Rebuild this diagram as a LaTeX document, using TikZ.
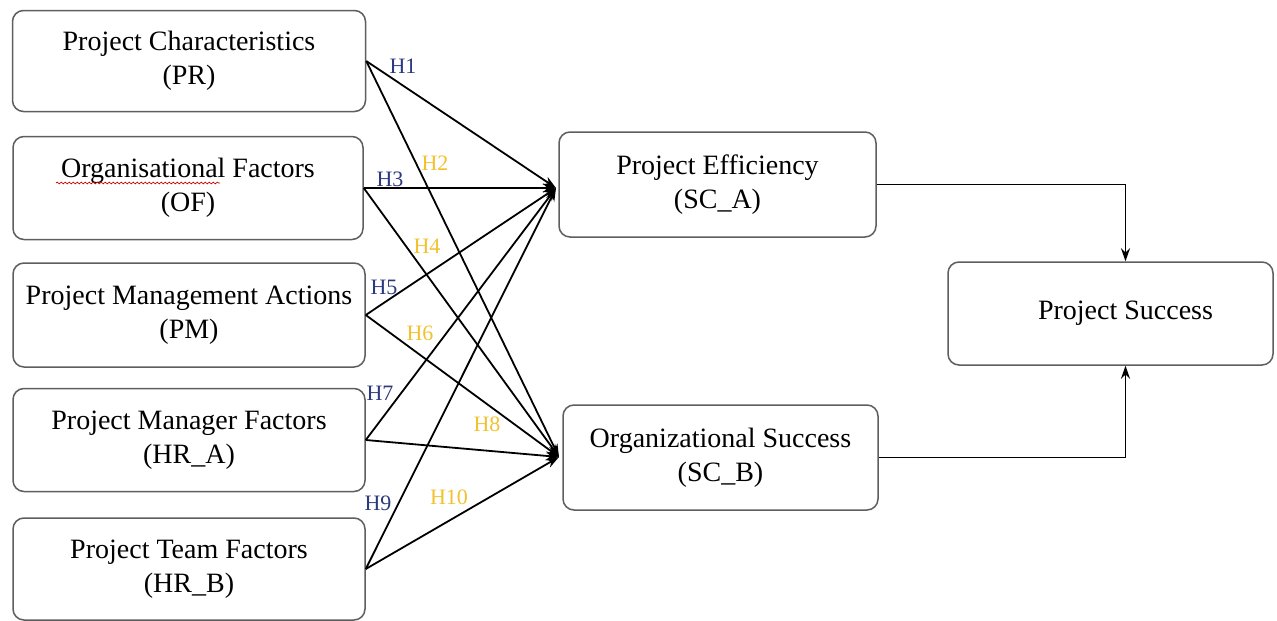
\documentclass[tikz,border=0pt]{standalone}
\usepackage{fontspec}
\setmainfont{Liberation Serif}
\usetikzlibrary{arrows.meta,decorations.pathmorphing,calc}
\definecolor{hblue}{HTML}{2B3A7E}
\definecolor{hyellow}{HTML}{F2C12E}
\definecolor{boxgray}{HTML}{5E5E5E}
\tikzset{
  box/.style={draw=boxgray, line width=1.5pt, rounded corners=11pt, fill=white,
    align=center, inner sep=0pt, font=\fontsize{28}{34}\selectfont},
  link/.style={line width=1.8pt, -{Stealth[length=13pt,width=9pt]}},
  hb/.style={text=hblue, font=\fontsize{22}{24}\selectfont, inner sep=0pt},
  hy/.style={text=hyellow, font=\fontsize{22}{24}\selectfont, inner sep=0pt},
}
\begin{document}
\begin{tikzpicture}[x=1pt,y=-1pt]
\useasboundingbox (0,0) rectangle (1277,621);
% left boxes
\node[box, minimum width=353pt, minimum height=101pt] (pr) at (189,61) {Project Characteristics\\(PR)};
\node[box, minimum width=350pt, minimum height=103pt] (of) at (188,188) {Organisational Factors\\(OF)};
\node[box, minimum width=352pt, minimum height=104pt] (pm) at (189,315) {Project Management Actions\\(PM)};
\node[box, minimum width=352pt, minimum height=103pt] (hra) at (189,440) {Project Manager Factors\\(HR\_A)};
\node[box, minimum width=352pt, minimum height=102pt] (hrb) at (189,569) {Project Team Factors\\(HR\_B)};
% middle and right boxes
\node[box, minimum width=317pt, minimum height=105pt] (sca) at (717.5,184.5) {Project Efficiency\\(SC\_A)};
\node[box, minimum width=315pt, minimum height=105pt] (scb) at (720.5,457.5) {Organizational Success\\(SC\_B)};
\node[box, minimum width=325pt, minimum height=103pt] (ps) at (1110.5,313.5) {\hspace*{30pt}Project Success};
% spell-check underline
\draw[red!80!black, line width=0.7pt, decorate, decoration={snake, amplitude=0.9pt, segment length=4pt}] (56,183) -- (220,183);
% convergence points
\coordinate (ina) at (556,188);
\coordinate (inb) at (559,457);
% hypothesis links
\foreach \s in {pr,of,pm,hra,hrb}{
  \draw[link] (\s.east) -- (ina);
  \draw[link] (\s.east) -- (inb);
}
% outcome links
\draw[link] (sca.east) -| ([xshift=15pt]ps.north);
\draw[link] (scb.east) -| ([xshift=15pt]ps.south);
% labels
\node[hb] (h1) at (403,66) {H1};
\node[hy] (h2) at (435,163) {H2};
\node[hb] (h3) at (390,179) {H3};
\node[hy] (h4) at (427,246) {H4};
\node[hb] (h5) at (384,287) {H5};
\node[hy] (h6) at (420,333) {H6};
\node[hb] (h7) at (380,393) {H7};
\node[hy] (h8) at (487,424) {H8};
\node[hb] (h9) at (378,503) {H9};
\node[hy] (h10) at (449,497) {H10};
\end{tikzpicture}
\end{document}
